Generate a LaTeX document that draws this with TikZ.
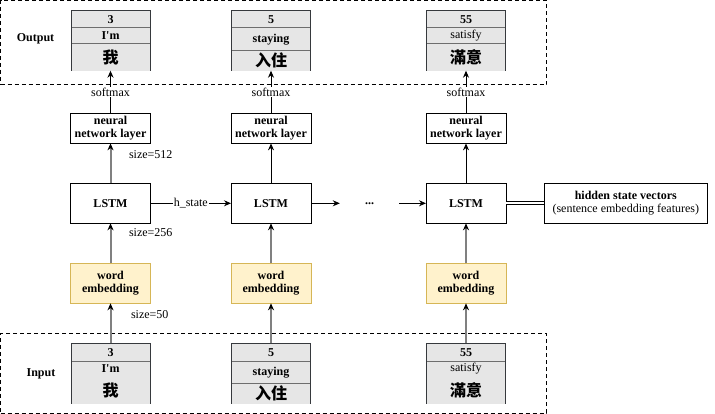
\documentclass[tikz,border=0pt]{standalone}
\usepackage{fontspec}
\setmainfont{Liberation Serif}
\newfontfamily\cjk{Noto Sans CJK SC}
\usepackage{tikz}
\usetikzlibrary{arrows.meta,positioning}
\definecolor{cellgray}{RGB}{230,230,230}
\definecolor{framegray}{RGB}{54,57,61}
\definecolor{rulegray}{RGB}{110,110,110}
\definecolor{linegray}{RGB}{128,128,128}
\definecolor{embfill}{RGB}{255,242,204}
\definecolor{embdraw}{RGB}{214,182,86}
\tikzset{>={Stealth[length=7pt,width=6pt]}}
\tikzset{%
    block/.style={draw, line width=1pt, minimum width=80pt, minimum height=40pt,
        inner sep=1pt, outer sep=0pt, align=center,
        font=\fontsize{12}{13.5}\selectfont\bfseries},
    embed/.style={block, draw=embdraw, fill=embfill},
    cell/.style={draw=rulegray, fill=cellgray, line width=1pt, minimum width=79pt,
        inner sep=0pt, outer sep=0pt, font=\fontsize{12}{13}\selectfont\bfseries},
    cjkcell/.style={cell, draw=none, font=\fontsize{16}{17}\selectfont\cjk\bfseries},
    frame/.style={draw=framegray, line width=1pt},
    grp/.style={draw, line width=1pt, dash pattern=on 4pt off 3pt, minimum width=546pt,
        inner sep=0pt, outer sep=0pt},
    lbl/.style={font=\fontsize{12}{13}\selectfont, inner sep=1pt},
    gline/.style={draw=linegray, line width=2pt, -{Stealth[length=7pt,width=6pt,black]}}
}

\begin{document}
\begin{tikzpicture}[x=1pt,y=-1pt]
    \useasboundingbox (0,0) rectangle (715,414);
    % output and input groups
    \node[grp, minimum height=84.5pt] (outgrp) at (273.5,42.75) {};
    \node[grp, minimum height=79.5pt] (ingrp) at (273.5,373.25) {};
    \node[lbl, font=\fontsize{12}{13}\selectfont\bfseries] (outlbl) at (35.5,39) {Output};
    \node[lbl, font=\fontsize{12}{13}\selectfont\bfseries] (inlbl) at (41,374) {Input};

    % output words
    \node[cell, minimum height=17.7pt] (o1a) at (110.5,19.15) {3};
    \node[cell, minimum height=16pt, below=0pt of o1a] (o1b) {I\textquotesingle m};
    \node[cjkcell, minimum height=26.7pt, below=0pt of o1b] (o1c) {我};
    \draw[frame] (o1c.south west) |- (o1a.north east) -- (o1c.south east);
    \node[cell, minimum height=17.7pt] (o2a) at (271,19.15) {5};
    \node[cell, minimum height=22.7pt, below=0pt of o2a] (o2b) {staying};
    \node[cjkcell, minimum height=20pt, below=0pt of o2b] (o2c) {入住};
    \draw[frame] (o2c.south west) |- (o2a.north east) -- (o2c.south east);
    \node[cell, minimum height=17.7pt] (o3a) at (466,19.15) {55};
    \node[cell, minimum height=16pt, below=0pt of o3a, font=\fontsize{12}{13}\selectfont] (o3b) {satisfy};
    \node[cjkcell, minimum height=26.7pt, below=0pt of o3b] (o3c) {滿意};
    \draw[frame] (o3c.south west) |- (o3a.north east) -- (o3c.south east);

    % input words
    \node[cell, minimum height=17.7pt] (i1a) at (110.5,352.15) {3};
    \node[cell, minimum height=16pt, below=0pt of i1a] (i1b) {I\textquotesingle m};
    \node[cjkcell, minimum height=26.7pt, below=0pt of i1b] (i1c) {我};
    \draw[frame] (i1c.south west) |- (i1a.north east) -- (i1c.south east);
    \node[cell, minimum height=17.7pt] (i2a) at (271,352.15) {5};
    \node[cell, minimum height=22.7pt, below=0pt of i2a] (i2b) {staying};
    \node[cjkcell, minimum height=20pt, below=0pt of i2b] (i2c) {入住};
    \draw[frame] (i2c.south west) |- (i2a.north east) -- (i2c.south east);
    \node[cell, minimum height=17.7pt] (i3a) at (466,352.15) {55};
    \node[cell, minimum height=16pt, below=0pt of i3a, font=\fontsize{12}{13}\selectfont] (i3b) {satisfy};
    \node[cjkcell, minimum height=26.7pt, below=0pt of i3b] (i3c) {滿意};
    \draw[frame] (i3c.south west) |- (i3a.north east) -- (i3c.south east);

    % network
    \node[block, minimum height=30.3pt] (n1) at (110.5,128.2) {neural\\network layer};
    \node[block, minimum height=30.3pt] (n2) at (271,128.2) {neural\\network layer};
    \node[block, minimum height=30.3pt] (n3) at (466,128.2) {neural\\network layer};
    \node[block] (l1) at (110.5,203.3) {LSTM};
    \node[block] (l2) at (271,203.3) {LSTM};
    \node[block] (l3) at (466,203.3) {LSTM};
    \node[embed] (e1) at (110.5,283.3) {word\\embedding};
    \node[embed] (e2) at (271,283.3) {word\\embedding};
    \node[embed] (e3) at (466,283.3) {word\\embedding};
    \node[lbl, minimum width=59pt, inner sep=0pt, font=\fontsize{12}{13}\selectfont\bfseries] (dots) at (369.5,203.3) {...};
    \node[block, minimum width=163pt, font=\fontsize{12}{13.5}\selectfont] (hid) at (625.8,203.3)
        {\textbf{hidden state vectors}\\(sentence embedding features)};

    % connectors
    \draw[gline] (i1a) -- node[lbl, pos=0.73, anchor=west, xshift=18.5pt] {size=50} (e1);
    \draw[gline] (i2a) -- (e2);
    \draw[gline] (i3a) -- (e3);
    \draw[gline] (e1) -- node[lbl, pos=0.76, anchor=west, xshift=16.5pt] {size=256} (l1);
    \draw[gline] (e2) -- (l2);
    \draw[gline] (e3) -- (l3);
    \draw[gline] (l1) -- node[lbl, pos=0.73, anchor=west, xshift=16.5pt] {size=512} (n1);
    \draw[->, line width=1pt] (l2) -- (n2);
    \draw[->, line width=1pt] (l3) -- (n3);
    \draw[->, line width=1pt] (n1) -- node[lbl, fill=white] {softmax} (o1c);
    \draw[->, line width=1pt] (n2) -- node[lbl, fill=white] {softmax} (o2c);
    \draw[->, line width=1pt] (n3) -- node[lbl, fill=white] {softmax} (o3c);
    \draw[->, line width=1pt] (l1) -- node[lbl, fill=white] {h\_state} (l2);
    \draw[->, line width=1pt] (l2) -- (dots);
    \draw[->, line width=1pt] (dots) -- (l3);
    \draw[line width=1pt, double, double distance=2pt] (l3) -- (hid);
\end{tikzpicture}
\end{document}
